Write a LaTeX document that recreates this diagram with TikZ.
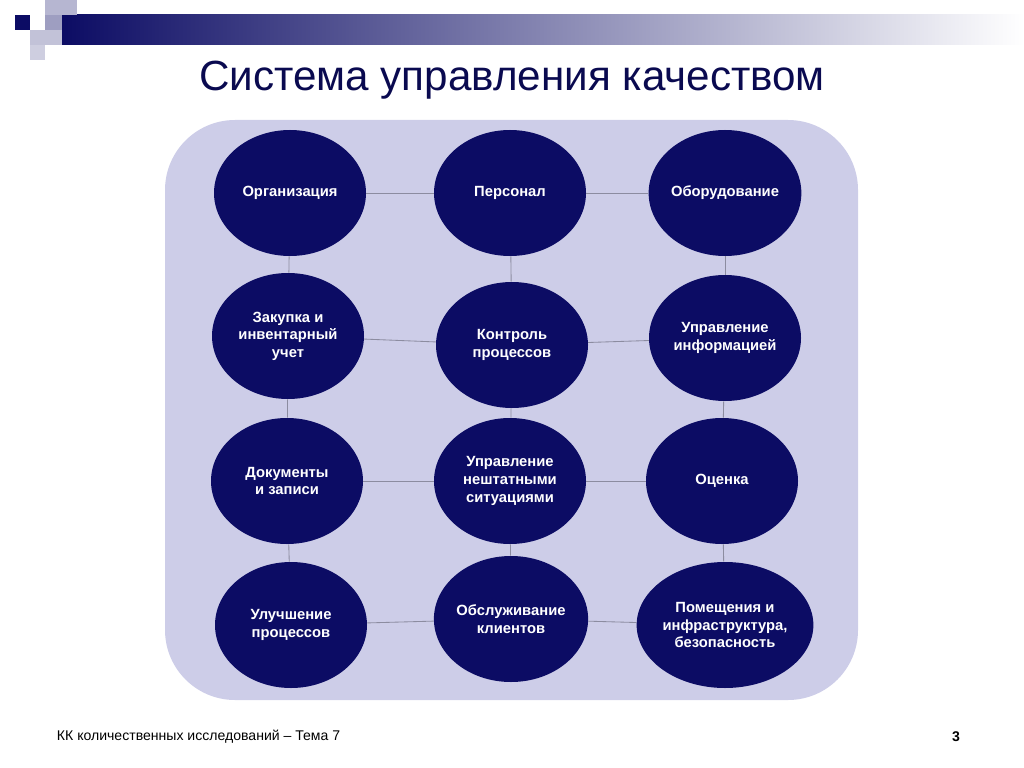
\documentclass[tikz,border=0pt]{standalone}
\usepackage{fontspec}
\setmainfont{Liberation Sans}
\usetikzlibrary{shapes.geometric}
\definecolor{navy}{RGB}{12,12,100}
\definecolor{panel}{RGB}{205,205,232}
\definecolor{lnk}{RGB}{140,140,160}
\tikzset{
  item/.style={ellipse,fill=navy,minimum width=152\px,minimum height=126\px,inner sep=0pt,
    text=white,font=\fontsize{10.5}{12.5}\selectfont\bfseries,align=center},
  link/.style={draw=lnk,line width=0.6pt}
}
\newlength{\px}\setlength{\px}{0.025cm}
\begin{document}
\begin{tikzpicture}[x=0.025cm,y=-0.025cm]
	\useasboundingbox (0,0) rectangle (1024,768);
	% header decoration
	\shade[left color=navy,right color=white] (62,15) rectangle (1024,45);
	\fill[navy] (15,15) rectangle (30,30);
	\fill[navy!30] (45,0) rectangle (77,15);
	\fill[navy!25] (30,30) rectangle (62,45);
	\fill[navy!40] (45,15) rectangle (62,30);
	\fill[navy!20] (30,45) rectangle (45,60);
	\node[text=navy!80!black,font=\fontsize{30}{36}\selectfont] (title) at (512,80) {Система управления качеством};
	% panel
	\fill[panel,rounded corners=70\px] (165,120) rectangle (858,700);
	\node[item] (org) at (290,193) {Организация};
	\node[item] (pers) at (510,193) {Персонал};
	\node[item] (obor) at (725,193) {Оборудование};
	\node[item] (zak) at (288,336) {Закупка и\\инвентарный\\учет};
	\node[item] (kontr) at (512,345) {Контроль\\процессов};
	\node[item] (upr) at (725,338) {Управление\\информацией};
	\node[item] (dok) at (287,481) {Документы\\и записи};
	\node[item] (nesht) at (510,481) {Управление\\нештатными\\ситуациями};
	\node[item] (ots) at (722,481) {Оценка};
	\node[item] (ulu) at (291,625) {Улучшение\\процессов};
	\node[item] (obs) at (511,619) {Обслуживание\\клиентов};
	\node[item] (pom) at (725,625) {Помещения и\\инфраструктура,\\безопасность};
	\begin{scope}[on background layer/.style={}]
	\end{scope}
	% connectors
	\foreach \a/\b in {org/pers,pers/obor,zak/kontr,kontr/upr,dok/nesht,nesht/ots,ulu/obs,obs/pom,
	  org/zak,zak/dok,dok/ulu,pers/kontr,kontr/nesht,nesht/obs,obor/upr,upr/ots,ots/pom}
		\draw[link] (\a) -- (\b);
	% footer
	\node[anchor=west,font=\fontsize{10}{12}\selectfont] (foot) at (52,737) {КК количественных исследований -- Тема 7};
	\node[font=\fontsize{10}{12}\selectfont\bfseries] (page) at (956,737) {3};
\end{tikzpicture}
\end{document}
